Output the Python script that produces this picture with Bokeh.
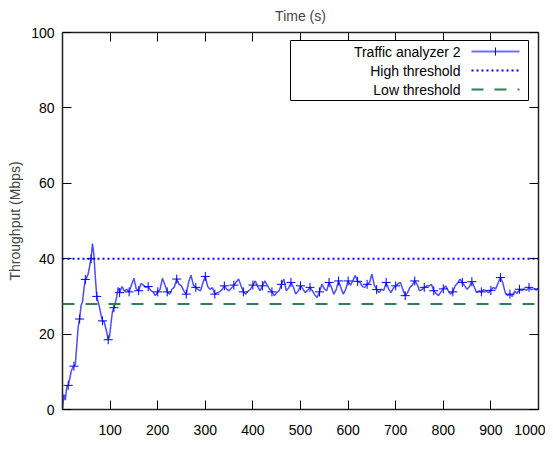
from bokeh.plotting import figure
from bokeh.models import (Range1d, FixedTicker, LinearAxis, Span, Label, Arrow,
                          BoxAnnotation, ColumnDataSource, CDSView, IndexFilter,
                          CustomLabelingPolicy)
from bokeh.embed import file_html
from bokeh.resources import INLINE

# ---------------- data ----------------
early_t = [0, 3, 6, 9, 12, 15, 18, 21, 24, 27, 30, 33, 36, 39, 42, 45, 48, 51, 54, 57,
           60, 63, 66, 69, 72, 75, 78, 81, 84, 87, 90, 93, 96, 99, 102, 105, 108, 111, 114, 117]
early_y = [0, 4, 2.5, 6, 6.4, 8, 10, 11, 11.5, 12, 17, 22, 24, 27.6, 28.5, 32, 34.5, 35, 36, 38,
           40, 44, 41, 35, 30, 28.5, 27, 25, 23.5, 23.4, 22, 20.5, 18.5, 19.5, 23, 26, 27, 28.3, 30, 32.4]
steady_t = list(range(120, 1001, 5))
steady_y = [
    31.0, 32.6, 31.4, 31.9, 31.2, 33.0, 34.8, 32.0, 31.5, 33.4,
    33.0, 32.4, 32.6, 31.6, 31.2, 30.2, 31.2, 31.9, 34.8, 33.1,
    31.2, 30.6, 31.9, 32.5, 34.6, 33.2, 32.8, 31.4, 30.6, 33.8,
    35.6, 33.0, 32.4, 31.8, 31.5, 33.6, 35.3, 32.6, 31.9, 32.3,
    30.6, 31.0, 31.2, 31.8, 32.8, 31.9, 31.5, 32.2, 33.0, 33.8,
    34.6, 32.8, 31.2, 30.6, 31.4, 31.9, 33.0, 34.1, 32.6, 31.5,
    32.8, 34.1, 33.0, 31.9, 31.2, 30.2, 31.0, 31.5, 33.2, 34.6,
    31.5, 32.2, 33.7, 32.5, 30.6, 31.4, 32.8, 32.0, 31.0, 31.6,
    32.4, 31.5, 30.4, 29.7, 31.2, 33.3, 32.0, 31.5, 33.7, 32.4,
    30.6, 31.8, 34.1, 32.2, 30.6, 31.9, 34.1, 33.0, 34.2, 35.5,
    34.0, 33.7, 32.6, 32.4, 33.2, 33.7, 35.9, 33.0, 31.8, 31.0,
    31.9, 31.6, 33.7, 32.0, 31.0, 32.2, 32.8, 33.4, 33.7, 31.8,
    30.2, 31.0, 32.4, 33.0, 34.1, 33.2, 31.5, 31.8, 32.4, 32.8,
    32.8, 33.2, 31.5, 30.8, 30.2, 31.2, 32.0, 32.8, 31.6, 30.6,
    31.2, 32.8, 33.5, 34.6, 33.7, 32.8, 31.9, 32.6, 33.9, 32.5,
    31.0, 31.5, 31.2, 31.8, 31.5, 31.0, 31.6, 32.4, 32.0, 33.5,
    35.0, 33.6, 31.0, 30.2, 30.6, 30.0, 31.4, 30.8, 31.9, 31.5,
    32.0, 31.6, 32.4, 31.8, 32.0, 31.7, 32.0,
]
high_threshold = 40
low_threshold = 28
x_ticks = [100, 200, 300, 400, 500, 600, 700, 800, 900, 1000]
y_ticks = [0, 20, 40, 60, 80, 100]

times = early_t + steady_t
values = early_y + steady_y[:len(steady_t)]
times = times[:len(values)]

FONT = "Liberation Sans"
BLUE = "#0000ff"
GREEN = "#2f8050"
DOT = "2 3"
DASH = "12 11"

p = figure(width=545, height=445, output_backend="svg", toolbar_location=None,
           x_range=Range1d(0, 1000), y_range=Range1d(0, 100),
           frame_width=476, frame_height=377,
           min_border_left=62, min_border_right=7, min_border_top=32, min_border_bottom=36,
           title="Time (s)")
p.title.align = "center"
p.title.text_font = FONT
p.title.text_font_size = "14px"
p.title.text_font_style = "normal"
p.title.standoff = 9
p.grid.visible = False
p.outline_line_color = "#222222"
p.outline_line_width = 1.5
p.background_fill_color = "white"

for ax in p.xaxis:
    ax.ticker = FixedTicker(ticks=x_ticks)
    ax.major_tick_in = 9
    ax.major_tick_out = 0
    ax.minor_tick_in = 0
    ax.minor_tick_out = 0
    ax.major_label_standoff = 15
    ax.major_label_text_font = FONT
    ax.major_label_text_font_size = "14px"
    ax.major_label_text_color = "black"
    ax.axis_line_color = "#222222"
for ax in p.yaxis:
    ax.ticker = FixedTicker(ticks=y_ticks)
    ax.major_tick_in = 9
    ax.major_tick_out = 0
    ax.minor_tick_in = 0
    ax.minor_tick_out = 0
    ax.major_label_standoff = 8
    ax.major_label_text_font = FONT
    ax.major_label_text_font_size = "14px"
    ax.major_label_text_color = "black"
    ax.axis_line_color = "#222222"
    ax.axis_label = "Throughput (Mbps)"
    ax.axis_label_text_font = FONT
    ax.axis_label_text_font_size = "14px"
    ax.axis_label_text_font_style = "normal"
    ax.axis_label_standoff = 5

# mirror ticks on top and right, without labels
no_labels = CustomLabelingPolicy(code="""
    const all = [...indices];
    for (const i of all) indices.unset(i);
    return indices;
""")
top = LinearAxis(ticker=FixedTicker(ticks=x_ticks), major_tick_in=9, major_tick_out=0,
                 minor_tick_in=0, minor_tick_out=0, major_label_policy=no_labels,
                 major_label_text_font_size="1px",
                 major_label_standoff=0, axis_line_color="#222222")
right = LinearAxis(ticker=FixedTicker(ticks=y_ticks), major_tick_in=9, major_tick_out=0,
                   minor_tick_in=0, minor_tick_out=0, major_label_policy=no_labels,
                   major_label_text_font_size="1px",
                   major_label_standoff=0, axis_line_color="#222222")
p.add_layout(top, "above")
p.add_layout(right, "right")

# thresholds
p.add_layout(Span(location=high_threshold, dimension="width", line_color=BLUE,
                  line_width=2, line_dash=DOT))
p.add_layout(Span(location=low_threshold, dimension="width", line_color=GREEN,
                  line_width=2, line_dash=DASH))

src = ColumnDataSource(dict(t=times, y=values))
p.line("t", "y", source=src, line_color=BLUE, line_width=1.5, line_alpha=0.7)
view = CDSView(filter=IndexFilter(list(range(0, len(values), 4))))
p.scatter("t", "y", source=src, view=view, marker="cross", size=9,
          line_color=BLUE, line_width=1)

# gnuplot-style legend (screen units, relative to frame)
p.add_layout(BoxAnnotation(left=228, right=466, top=369, bottom=309,
                           left_units="screen", right_units="screen",
                           top_units="screen", bottom_units="screen",
                           fill_color="white", fill_alpha=1.0,
                           line_color="black", line_width=1, line_alpha=1.0))
rows = [("Traffic analyzer 2", 358), ("High threshold", 339), ("Low threshold", 320)]
for txt, yy in rows:
    p.add_layout(Label(x=398, y=yy, x_units="screen", y_units="screen", text=txt,
                       text_align="right", text_baseline="middle",
                       text_font=FONT, text_font_size="14px", text_color="black"))
p.add_layout(Arrow(end=None, x_start=409, y_start=358, x_end=457, y_end=358,
                   start_units="screen", end_units="screen", line_color="#7070ff",
                   line_width=2))
p.add_layout(Arrow(end=None, x_start=433, y_start=354, x_end=433, y_end=362,
                   start_units="screen", end_units="screen", line_color=BLUE, line_width=1))
p.add_layout(Arrow(end=None, x_start=409, y_start=339, x_end=457, y_end=339,
                   start_units="screen", end_units="screen", line_color=BLUE,
                   line_width=2, line_dash=DOT))
p.add_layout(Arrow(end=None, x_start=409, y_start=320, x_end=457, y_end=320,
                   start_units="screen", end_units="screen", line_color=GREEN,
                   line_width=2, line_dash=DASH))

open("out.html", "w").write(file_html(p, INLINE))
